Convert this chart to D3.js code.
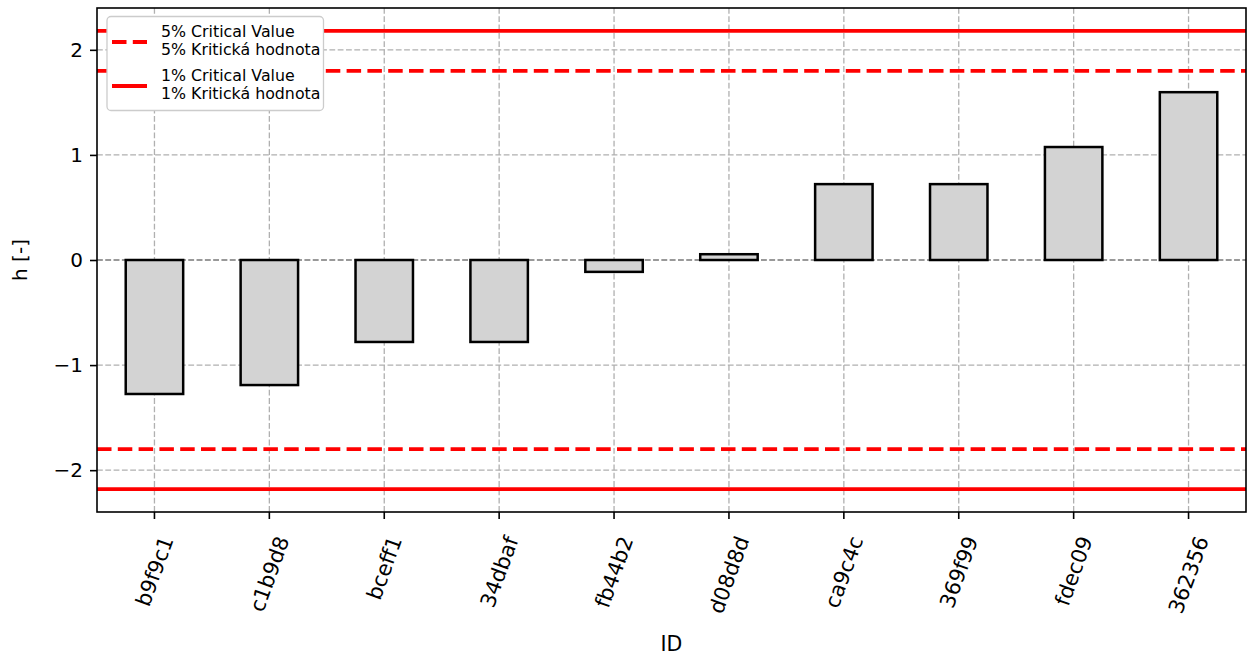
<!DOCTYPE html>
<html><head><meta charset="utf-8">
<script src="https://cdn.jsdelivr.net/npm/d3@7"></script>
<style>body{margin:0;background:#fff}svg{display:block}text{font-family:"DejaVu Sans",sans-serif;fill:#000}</style>
</head><body><svg id="c" width="1250" height="657"></svg>
<script>
const categories = ["b9f9c1","c1b9d8","bceff1","34dbaf","fb44b2","d08d8d","ca9c4c","369f99","fdec09","362356"];
const values = [-1.275,-1.19,-0.78,-0.78,-0.113,0.055,0.722,0.722,1.075,1.597];
const yTicks = [-2,-1,0,1,2];
const crit5 = 1.80;
const crit1 = 2.18;
const legendLabels = [["5% Critical Value","5% Kritická hodnota"],["1% Critical Value","1% Kritická hodnota"]];

const svg = d3.select("#c");
const L=97,R=1246,T=8,B=512;
const x = d3.scaleBand().domain(categories).range([L,R]).paddingInner(0).paddingOuter(0);
const y = d3.scaleLinear().domain([-crit1*1.1, crit1*1.1]).range([B,T]);
const bw = x.bandwidth()*0.5;
const cx = d => x(d)+x.bandwidth()/2;

// grid
const g = svg.append("g");
g.selectAll(".gx").data(categories).enter().append("line")
 .attr("x1",cx).attr("x2",cx).attr("y1",T).attr("y2",B)
 .attr("stroke","#b0b0b0").attr("stroke-width",1.3).attr("stroke-dasharray","5.8,2.5");
g.selectAll(".gy").data(yTicks).enter().append("line")
 .attr("x1",L).attr("x2",R).attr("y1",d=>y(d)).attr("y2",d=>y(d))
 .attr("stroke","#b0b0b0").attr("stroke-width",1.3).attr("stroke-dasharray","5.8,2.5");
// zero line
svg.append("line").attr("x1",L).attr("x2",R).attr("y1",y(0)).attr("y2",y(0))
 .attr("stroke","#707070").attr("stroke-width",1.2).attr("stroke-dasharray","5.8,2.5");

// bars
svg.selectAll(".bar").data(categories).enter().append("rect")
 .attr("x",d=>cx(d)-bw/2).attr("width",bw)
 .attr("y",(d,i)=>y(Math.max(0,values[i])))
 .attr("height",(d,i)=>Math.abs(y(values[i])-y(0)))
 .attr("fill","#d3d3d3").attr("stroke","#000").attr("stroke-width",2.5);

// critical lines
const crit = [{v:crit5,dash:"14.5,6.3"},{v:-crit5,dash:"14.5,6.3"},{v:crit1,dash:null},{v:-crit1,dash:null}];
svg.selectAll(".crit").data(crit).enter().append("line")
 .attr("x1",L).attr("x2",R).attr("y1",d=>y(d.v)).attr("y2",d=>y(d.v))
 .attr("stroke","#ff0000").attr("stroke-width",3.8)
 .attr("stroke-dasharray",d=>d.dash);

// frame
svg.append("rect").attr("x",L).attr("y",T).attr("width",R-L).attr("height",B-T)
 .attr("fill","none").attr("stroke","#000").attr("stroke-width",1.6);

// y axis
const ya = svg.append("g").attr("transform",`translate(${L},0)`)
 .call(d3.axisLeft(y).tickValues(yTicks).tickSize(7).tickPadding(7).tickFormat(d=>d3.format("")(d).replace("-","\u2212")));
ya.select(".domain").remove();
ya.selectAll("line").attr("stroke","#000").attr("stroke-width",1.6);
ya.selectAll("text").style("font-size","20px").style("font-family","DejaVu Sans");

// x axis
const xa = svg.append("g").attr("transform",`translate(0,${B})`)
 .call(d3.axisBottom(x).tickSize(7).tickFormat(""));
xa.select(".domain").remove();
xa.selectAll("line").attr("stroke","#000").attr("stroke-width",1.6);
const fs=21, ang=70*Math.PI/180;
svg.selectAll(".xl").data(categories).enter().append("text")
 .text(d=>d).style("font-size",fs+"px").attr("text-anchor","middle").attr("dy","0.35em")
 .each(function(d){
   const len=this.getComputedTextLength();
   const h=fs*1.164;
   const bh=len*Math.sin(ang)+h*Math.cos(ang);
   const yc=533+bh/2;
   d3.select(this).attr("transform",`translate(${cx(d)},${yc}) rotate(-70)`);
 });

// axis labels
svg.append("text").text("ID").attr("x",(L+R)/2).attr("y",651).attr("text-anchor","middle").style("font-size","20.5px");
svg.append("text").text("h [-]").attr("transform",`translate(27,${y(0)}) rotate(-90)`).attr("text-anchor","middle").style("font-size","20px");

// legend
const lg = svg.append("g");
lg.append("rect").attr("x",107).attr("y",16.5).attr("width",216.5).attr("height",94).attr("rx",4)
 .attr("fill","#fff").attr("fill-opacity",1).attr("stroke","#cccccc").attr("stroke-width",1.3);
const hy=[42,86], dashes=["14.5,6.3",null];
legendLabels.forEach((lab,i)=>{
  lg.append("line").attr("x1",112).attr("x2",147).attr("y1",hy[i]).attr("y2",hy[i])
   .attr("stroke","#ff0000").attr("stroke-width",3.8).attr("stroke-dasharray",dashes[i]);
  lab.forEach((t,j)=>{
    lg.append("text").text(t).attr("x",161).attr("y",hy[i]-5.3+j*18.3).style("font-size","15.8px");
  });
});
</script></body></html>
